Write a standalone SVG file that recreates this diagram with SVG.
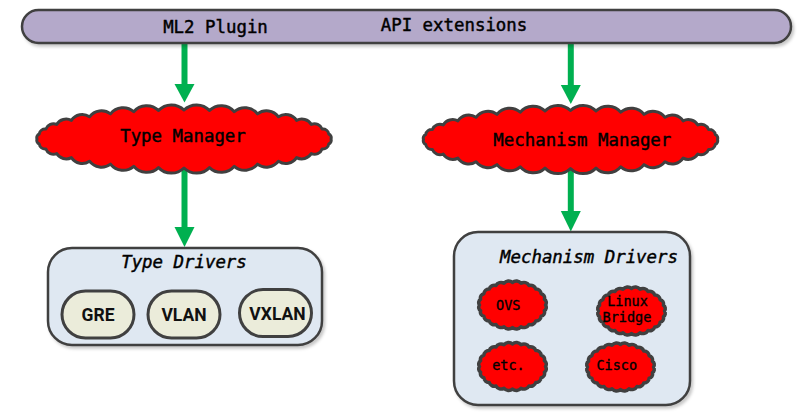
<svg xmlns="http://www.w3.org/2000/svg" xmlns:xlink="http://www.w3.org/1999/xlink" width="798" height="416" viewBox="0 0 798 416">
<style>
.bar{fill:#b4a9ca;stroke:#404040;stroke-width:2.5}
.box{fill:#dfe8f2;stroke:#404040;stroke-width:2.5}
.pill{fill:#ebecda;stroke:#404040;stroke-width:3}
.cloud{fill:#ff0000;stroke:#404040;stroke-width:3;stroke-linejoin:round}
.scloud{fill:#ff0000;stroke:#404040;stroke-width:3.5;stroke-linejoin:round}
.mono{font-family:"DejaVu Sans Mono","Liberation Mono",monospace;fill:#000;stroke:#000;stroke-width:0.45;text-anchor:middle}
.lbl{font-size:17.4px}
.it{font-style:italic}
.sm{font-size:13.5px;stroke-width:0.35}
.pt{font-family:Roboto,"Liberation Sans",sans-serif;font-weight:bold;font-size:17.5px;text-anchor:middle;fill:#111}
.shaft{stroke:#00b050;stroke-width:6;fill:none}
.head{fill:#00b050}
</style>
<defs>
<filter id="sh" x="-5%" y="-10%" width="115%" height="130%">
<feDropShadow dx="2" dy="2.5" stdDeviation="1.5" flood-color="#000" flood-opacity="0.22"/>
</filter>
<path id="bigcloud" d="M147,0 A4,4 0 0 1 144.8,5 A6,6 0 0 1 138.1,9.9 A8,8 0 0 1 127.3,14.5 A11,11 0 0 1 112.6,18.6 A13,13 0 0 1 94.5,22.2 A15,15 0 0 1 73.5,25.1 A16,16 0 0 1 50.3,27.3 A17,17 0 0 1 25.5,28.6 A18,18 0 0 1 0,29 A18,18 0 0 1 -25.5,28.6 A17,17 0 0 1 -50.3,27.3 A16,16 0 0 1 -73.5,25.1 A15,15 0 0 1 -94.5,22.2 A13,13 0 0 1 -112.6,18.6 A11,11 0 0 1 -127.3,14.5 A8,8 0 0 1 -138.1,9.9 A6,6 0 0 1 -144.8,5 A4,4 0 0 1 -147,0 A4,4 0 0 1 -144.8,-5 A6,6 0 0 1 -138.1,-9.9 A8,8 0 0 1 -127.3,-14.5 A11,11 0 0 1 -112.6,-18.6 A13,13 0 0 1 -94.5,-22.2 A15,15 0 0 1 -73.5,-25.1 A16,16 0 0 1 -50.3,-27.3 A17,17 0 0 1 -25.5,-28.6 A18,18 0 0 1 0,-29 A18,18 0 0 1 25.5,-28.6 A17,17 0 0 1 50.3,-27.3 A16,16 0 0 1 73.5,-25.1 A15,15 0 0 1 94.5,-22.2 A13,13 0 0 1 112.6,-18.6 A11,11 0 0 1 127.3,-14.5 A8,8 0 0 1 138.1,-9.9 A6,6 0 0 1 144.8,-5 A4,4 0 0 1 147,0 Z"/>
<path id="smallcloud" d="M33,0 A4,4 0 0 1 31.9,5.8 A4.3,4.3 0 0 1 28.6,11.3 A4.8,4.8 0 0 1 23.3,15.9 A5.3,5.3 0 0 1 16.5,19.5 A5.6,5.6 0 0 1 8.5,21.7 A5.8,5.8 0 0 1 0,22.5 A5.8,5.8 0 0 1 -8.5,21.7 A5.6,5.6 0 0 1 -16.5,19.5 A5.3,5.3 0 0 1 -23.3,15.9 A4.8,4.8 0 0 1 -28.6,11.3 A4.3,4.3 0 0 1 -31.9,5.8 A4,4 0 0 1 -33,0 A4,4 0 0 1 -31.9,-5.8 A4.3,4.3 0 0 1 -28.6,-11.3 A4.8,4.8 0 0 1 -23.3,-15.9 A5.3,5.3 0 0 1 -16.5,-19.5 A5.6,5.6 0 0 1 -8.5,-21.7 A5.8,5.8 0 0 1 0,-22.5 A5.8,5.8 0 0 1 8.5,-21.7 A5.6,5.6 0 0 1 16.5,-19.5 A5.3,5.3 0 0 1 23.3,-15.9 A4.8,4.8 0 0 1 28.6,-11.3 A4.3,4.3 0 0 1 31.9,-5.8 A4,4 0 0 1 33,0 Z"/>
</defs>

<g id="connectors">
<line class="shaft" x1="184.5" y1="43" x2="184.5" y2="86"/>
<polygon class="head" points="174.5,84 194.5,84 184.5,102.5"/>
<line class="shaft" x1="570.8" y1="43" x2="570.8" y2="87"/>
<polygon class="head" points="560.8,85 580.8,85 570.8,104"/>
<line class="shaft" x1="184.5" y1="165" x2="184.5" y2="229"/>
<polygon class="head" points="174.5,227 194.5,227 184.5,247"/>
<line class="shaft" x1="570.8" y1="165" x2="570.8" y2="213"/>
<polygon class="head" points="560.8,211 580.8,211 570.8,231.5"/>
</g>

<g id="ml2-plugin">
<rect class="bar" x="22" y="10" width="769" height="33" rx="16.5" filter="url(#sh)"/>
<text class="mono lbl" x="215.5" y="33">ML2 Plugin</text>
<text class="mono lbl" x="454" y="31">API extensions</text>
</g>

<g id="type-manager">
<use href="#bigcloud" class="cloud" transform="translate(184,139)"/>
<text class="mono lbl" x="183" y="141.5">Type Manager</text>
</g>

<g id="mechanism-manager">
<use href="#bigcloud" class="cloud" transform="translate(570.5,139.5)"/>
<text class="mono lbl" x="582.3" y="145.5">Mechanism Manager</text>
</g>

<g id="type-drivers">
<rect class="box" x="48" y="248" width="274" height="97" rx="24" filter="url(#sh)"/>
<text class="mono lbl it" x="184" y="268">Type Drivers</text>
</g>

<g id="gre">
<rect class="pill" x="62" y="291" width="72" height="47" rx="23.5"/>
<text class="pt" x="98" y="321">GRE</text>
</g>
<g id="vlan">
<rect class="pill" x="148" y="291" width="72" height="47" rx="23.5"/>
<text class="pt" x="184" y="321">VLAN</text>
</g>
<g id="vxlan">
<rect class="pill" x="239.5" y="289.5" width="72" height="47" rx="23.5"/>
<text class="pt" x="277.5" y="319.5">VXLAN</text>
</g>

<g id="mechanism-drivers">
<rect class="box" x="454" y="232" width="236" height="173" rx="24" filter="url(#sh)"/>
<text class="mono lbl it" x="589" y="262.5">Mechanism Drivers</text>
</g>

<g id="ovs">
<use href="#smallcloud" class="scloud" transform="translate(512.5,305)"/>
<text class="mono sm" x="508.3" y="310">OVS</text>
</g>
<g id="linux-bridge">
<use href="#smallcloud" class="scloud" transform="translate(631.5,311)"/>
<text class="mono sm" x="627.5" y="305.5">Linux</text>
<text class="mono sm" x="627" y="321.5">Bridge</text>
</g>
<g id="etc">
<use href="#smallcloud" class="scloud" transform="translate(512.5,366.5)"/>
<text class="mono sm" x="508.5" y="369.5">etc.</text>
</g>
<g id="cisco">
<use href="#smallcloud" class="scloud" transform="translate(620.5,367)"/>
<text class="mono sm" x="616.7" y="370">Cisco</text>
</g>
</svg>
